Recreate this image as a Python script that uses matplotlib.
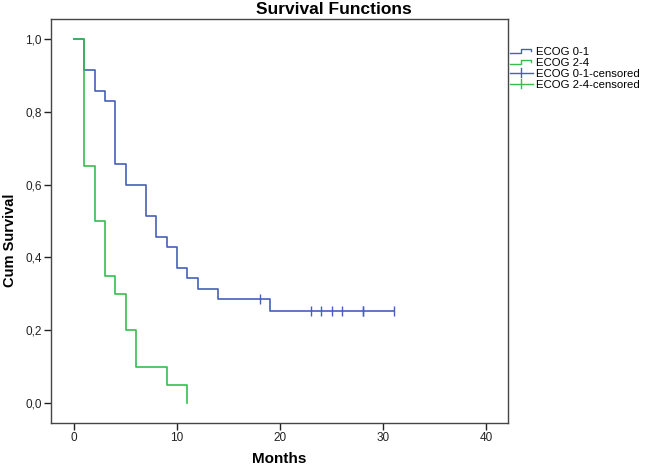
import matplotlib
matplotlib.use("Agg")
import matplotlib.pyplot as plt
from matplotlib.lines import Line2D
from matplotlib.legend_handler import HandlerBase
from matplotlib.ticker import FuncFormatter

plt.rcParams['font.family'] = ['Liberation Sans', 'DejaVu Sans']

# ---- data ----
months_01 = [0, 1, 2, 3, 4, 5, 7, 8, 9, 10, 11, 12, 14, 19, 31]
surv_01 = [1.0, 0.914, 0.857, 0.829, 0.657, 0.600, 0.514, 0.457, 0.429,
           0.371, 0.343, 0.314, 0.286, 0.254, 0.254]
cens_01_t = [18, 23, 24, 25, 26, 28, 28, 31]
cens_01_s = [0.286, 0.254, 0.254, 0.254, 0.254, 0.254, 0.254, 0.254]

months_24 = [0, 1, 2, 3, 4, 5, 6, 9, 11]
surv_24 = [1.0, 0.65, 0.50, 0.35, 0.30, 0.20, 0.10, 0.05, 0.0]

labels = ["ECOG 0-1", "ECOG 2-4", "ECOG 0-1-censored", "ECOG 2-4-censored"]
xticks = [0, 10, 20, 30, 40]
yticks = [0.0, 0.2, 0.4, 0.6, 0.8, 1.0]

blue = "#4560B8"
green = "#38BC50"
frame = "#454545"

fig = plt.figure(figsize=(6.45, 4.66), dpi=100)
ax = fig.add_axes([51/645, 1-423/466, (508-51)/645, (423-19)/466])

ax.step(months_01, surv_01, where='post', color=blue, lw=1.2, label=labels[0])
ax.step(months_24, surv_24, where='post', color=green, lw=1.2, label=labels[1])
ax.plot(cens_01_t, cens_01_s, ls='none', marker='|', ms=7, mew=1.0, color=blue)

ax.set_xlim(-2.23, 42.1)
ax.set_ylim(-0.055, 1.055)
ax.set_xticks(xticks)
ax.set_yticks(yticks)
ax.yaxis.set_major_formatter(FuncFormatter(lambda v, p: f"{v:.1f}".replace('.', ',')))
ax.tick_params(direction='out', length=5, width=1, colors='#222222',
               labelsize=8.5, pad=1.5)
for s in ax.spines.values():
    s.set_color(frame)
    s.set_linewidth(1.0)

ax.set_xlabel("Months", fontsize=11, fontweight='bold', va='center')
ax.xaxis.set_label_coords(0.5, (423-459)/404)
ax.set_ylabel("Cum Survival", fontsize=10.5, fontweight='bold', va='center')
ax.yaxis.set_label_coords((10-51)/457, (423-240)/404)

fig.text(334/645, 1-10/466, "Survival Functions", fontsize=12.5,
         fontweight='bold', ha='center', va='center')


class StepHandler(HandlerBase):
    def __init__(self, color):
        super().__init__()
        self.color = color

    def create_artists(self, legend, orig_handle, xdescent, ydescent,
                       width, height, fontsize, trans):
        x0 = -xdescent
        y0 = -ydescent
        xs = [x0, x0 + width*0.5, x0 + width*0.5, x0 + width*0.9, x0 + width*0.9]
        ys = [y0 + height*0.2, y0 + height*0.2, y0 + height*0.8,
              y0 + height*0.8, y0 + height*0.55]
        ln = Line2D(xs, ys, color=self.color, lw=1.0, transform=trans)
        return [ln]


class CensHandler(HandlerBase):
    def __init__(self, color):
        super().__init__()
        self.color = color

    def create_artists(self, legend, orig_handle, xdescent, ydescent,
                       width, height, fontsize, trans):
        x0 = -xdescent
        y0 = -ydescent
        h = Line2D([x0, x0 + width], [y0 + height/2]*2, color=self.color,
                   lw=1.0, transform=trans)
        v = Line2D([x0 + width/2]*2, [y0 - height*0.1, y0 + height*1.1],
                   color=self.color, lw=1.0, transform=trans)
        return [h, v]


h1 = Line2D([], [], color=blue)
h2 = Line2D([], [], color=green)
h3 = Line2D([], [], color=blue, marker='+')
h4 = Line2D([], [], color=green, marker='+')
leg = fig.legend([h1, h2, h3, h4], labels,
                 handler_map={h1: StepHandler(blue), h2: StepHandler(green),
                              h3: CensHandler(blue), h4: CensHandler(green)},
                 loc='upper left', bbox_to_anchor=(510/645, 1-47/466),
                 frameon=False, fontsize=8.2, handlelength=2.0,
                 handleheight=0.6, handletextpad=0.3, labelspacing=0.08,
                 borderaxespad=0, borderpad=0)

fig.savefig("out.png", dpi=100)
